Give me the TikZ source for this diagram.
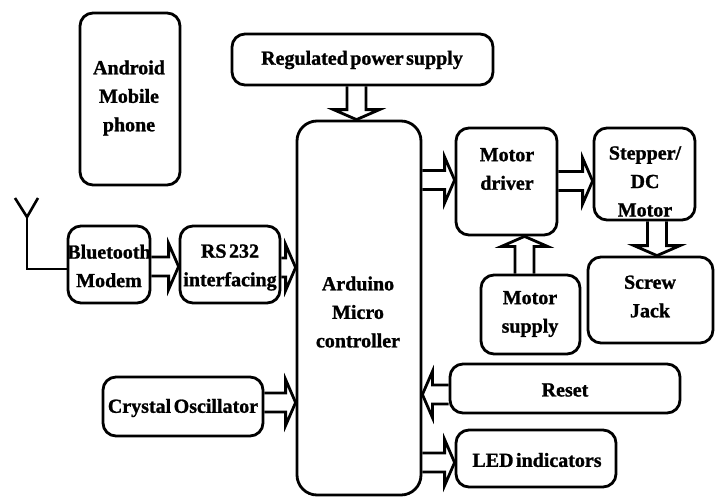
\documentclass[tikz,border=0pt]{standalone}
\usepackage{fontspec}
\setmainfont{Liberation Serif}[WordSpace=0.5, BoldFeatures={FakeBold=1.2}]
\usetikzlibrary{calc}
\newcommand\sw{9.5pt}
\newcommand\hw{23pt}
\newcommand\hl{10pt}
\newcommand\harr[3]{\draw[blk] let \p1=(#1), \p2=(#2), \p3=(0,#3), \n1={sign(\x2-\x1)} in
  (\x1,\y3-\sw) -- ({\x2-\n1*\hl},\y3-\sw) -- ({\x2-\n1*\hl},\y3-\hw) -- (\x2,\y3)
  -- ({\x2-\n1*\hl},\y3+\hw) -- ({\x2-\n1*\hl},\y3+\sw) -- (\x1,\y3+\sw);}
\newcommand\varr[3]{\draw[blk] let \p1=(#1), \p2=(#2), \p3=(#3,0), \n1={sign(\y2-\y1)} in
  (\x3-\sw,\y1) -- (\x3-\sw,{\y2-\n1*\hl}) -- (\x3-\hw,{\y2-\n1*\hl}) -- (\x3,\y2)
  -- (\x3+\hw,{\y2-\n1*\hl}) -- (\x3+\sw,{\y2-\n1*\hl}) -- (\x3+\sw,\y1);}
\begin{document}
\begin{tikzpicture}[x=1pt,y=-1pt,
  box/.style={draw, line width=2.8pt, rounded corners=13pt, inner sep=0pt},
  lbl/.style={font=\bfseries\fontsize{20}{28.5}\selectfont, align=center, inner sep=0pt},
  blk/.style={draw, line width=2.8pt, line join=miter},
  wire/.style={draw, line width=2.6pt}]
\useasboundingbox (0,0) rectangle (718,496);
% boxes
\node[box, minimum width=100pt, minimum height=172pt] (android) at (130,99) {};
\node[box, minimum width=261pt, minimum height=51pt] (rps) at (362.5,59.5) {};
\node[box, minimum width=124pt, minimum height=374pt, rounded corners=20pt] (ard) at (359,308) {};
\node[box, minimum width=101pt, minimum height=107pt] (md) at (506.5,181.5) {};
\node[box, minimum width=101pt, minimum height=92pt] (stp) at (644.5,174) {};
\node[box, minimum width=125pt, minimum height=86pt] (jack) at (650.5,300) {};
\node[box, minimum width=99pt, minimum height=79pt] (ms) at (530.5,314.5) {};
\node[box, minimum width=230pt, minimum height=49pt] (reset) at (565,388.5) {};
\node[box, minimum width=160pt, minimum height=57pt] (led) at (536,458.5) {};
\node[box, minimum width=160pt, minimum height=59pt] (xtal) at (183,406.5) {};
\node[box, minimum width=82pt, minimum height=77pt] (bt) at (109,264.5) {};
\node[box, minimum width=100pt, minimum height=77pt] (rs) at (230,264.5) {};
% labels
\node[lbl] (android-t) at (129,98) {Android\\Mobile\\phone};
\node[lbl] (rps-t) at (362,60) {Regulated power supply};
\node[lbl] (ard-t) at (358,312) {Arduino\\Micro\\controller};
\node[lbl] (md-t) at (507,169) {Motor\\driver};
\node[lbl] (stp-t) at (645,181.5) {Stepper/\\DC\\Motor};
\node[lbl] (jack-t) at (650,296.5) {Screw\\Jack};
\node[lbl] (ms-t) at (530,314) {Motor\\supply};
\node[lbl] (reset-t) at (565,390) {Reset};
\node[lbl] (led-t) at (537,460) {LED indicators};
\node[lbl] (xtal-t) at (183,408) {Crystal Oscillator};
\node[lbl] (bt-t) at (109,266) {Bluetooth\\Modem};
\node[lbl] (rs-t) at (230,267.5) {RS 232\\interfacing};
% antenna
\coordinate (ant) at (27,217);
\draw[wire] (15,198) -- (ant) -- (38,198);
\draw[wire] (ant) -- (27,269) -- (bt.west |- 27,269);
% block arrows
\harr{bt.east}{rs.west}{266.5}
\harr{rs.east}{ard.west}{267.5}
\harr{xtal.east}{ard.west}{402.5}
\harr{ard.east}{md.west}{180}
\harr{md.east}{stp.west}{181}
\harr{reset.west}{ard.east}{394.5}
\harr{ard.east}{led.west}{462.5}
\varr{rps.south}{ard.north}{356.5}
\varr{ms.north}{md.south}{524.5}
\varr{stp.south}{jack.north}{657}
\end{tikzpicture}
\end{document}
